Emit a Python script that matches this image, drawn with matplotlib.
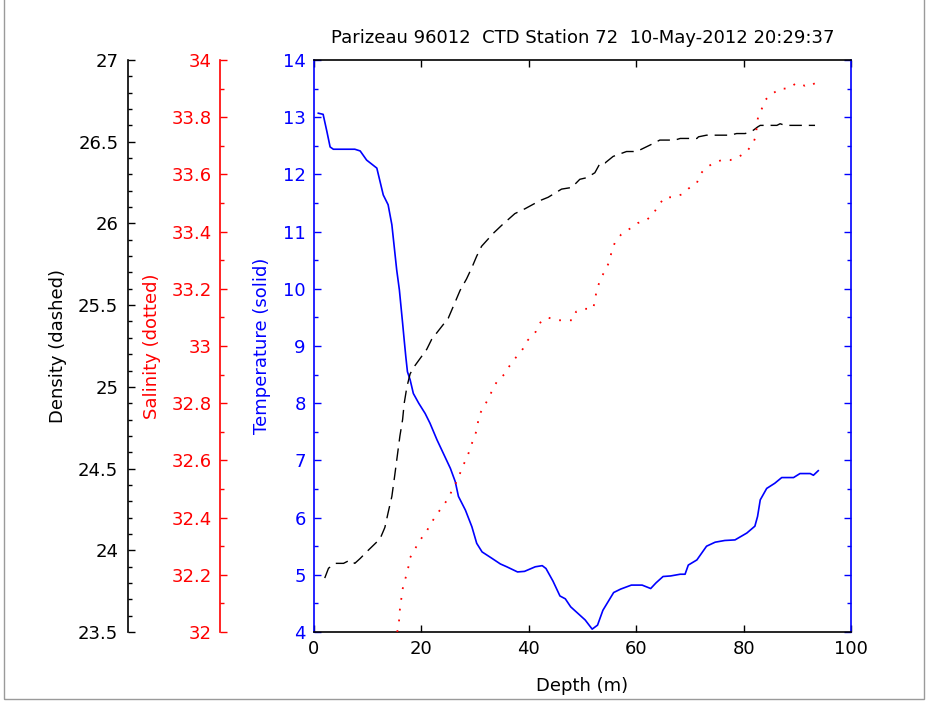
import matplotlib
matplotlib.use('Agg')
import matplotlib.pyplot as plt
from matplotlib.ticker import MultipleLocator, FormatStrFormatter
from matplotlib.patches import Rectangle

# CTD profile values
temp_depth = [0.8, 1.7, 2.4, 3.0, 3.6, 6.4, 7.6, 8.6, 9.8, 11.7, 12.9, 13.8,
              14.5, 15.4, 15.9, 16.2, 16.5, 16.8, 17.1, 17.4, 17.9, 18.5,
              19.5, 20.7, 21.6, 22.9, 24.1, 25.4, 26.3, 26.9, 28.2, 29.4,
              30.3, 31.3, 33.1, 34.7, 35.9, 37.9, 39.2, 41.2, 42.5, 43.2,
              44.5, 45.8, 46.8, 47.8, 50.5, 51.8, 52.8, 53.8, 55.8, 57.1,
              59.1, 61.1, 62.7, 63.7, 65.0, 66.4, 68.2, 69.1, 69.7, 71.3,
              72.2, 73.1, 74.7, 76.5, 78.4, 80.6, 82.1, 82.6, 83.1, 84.3,
              85.8, 87.1, 89.3, 90.5, 92.4, 93.0, 93.9]
temp = [13.07, 13.05, 12.75, 12.48, 12.44, 12.44, 12.44, 12.41, 12.25,
        12.11, 11.64, 11.47, 11.12, 10.33, 9.98, 9.69, 9.40, 9.10, 8.81,
        8.55, 8.41, 8.17, 8.00, 7.82, 7.65, 7.36, 7.12, 6.86, 6.63, 6.37,
        6.13, 5.84, 5.55, 5.40, 5.29, 5.19, 5.14, 5.05, 5.06, 5.14, 5.16,
        5.11, 4.89, 4.63, 4.58, 4.44, 4.21, 4.05, 4.12, 4.38, 4.69, 4.75,
        4.82, 4.82, 4.76, 4.86, 4.97, 4.98, 5.01, 5.01, 5.17, 5.26, 5.38,
        5.50, 5.57, 5.60, 5.61, 5.73, 5.85, 6.02, 6.31, 6.51, 6.60, 6.70,
        6.70, 6.77, 6.77, 6.74, 6.82]

dens_depth = [2.0, 2.7, 3.9, 5.5, 6.7, 7.6, 8.6, 10.1, 12.3, 13.2, 13.8,
              14.5, 15.0, 15.4, 15.8, 16.0, 16.5, 16.8, 17.3, 17.9, 18.8,
              21.0, 21.9, 23.8, 25.0, 26.3, 27.2, 28.4, 29.4, 30.3, 31.2,
              33.4, 35.0, 37.4, 39.3, 42.1, 43.6, 46.1, 48.0, 49.5, 50.8,
              52.3, 53.3, 54.2, 55.7, 58.2, 60.1, 62.6, 64.4, 67.2, 68.2,
              71.3, 71.6, 73.1, 75.9, 77.5, 78.7, 80.3, 81.8, 82.6, 83.1,
              84.6, 86.2, 86.8, 87.7, 89.0, 90.5, 93.3]
dens = [23.83, 23.89, 23.92, 23.92, 23.94, 23.92, 23.95, 24.00, 24.07,
        24.14, 24.23, 24.33, 24.45, 24.55, 24.65, 24.70, 24.80, 24.90,
        25.00, 25.08, 25.13, 25.23, 25.29, 25.37, 25.42, 25.52, 25.59,
        25.66, 25.73, 25.80, 25.86, 25.94, 25.99, 26.06, 26.09, 26.14,
        26.16, 26.21, 26.22, 26.27, 26.28, 26.31, 26.37, 26.37, 26.41,
        26.44, 26.44, 26.48, 26.51, 26.51, 26.52, 26.52, 26.53, 26.54,
        26.54, 26.54, 26.55, 26.55, 26.57, 26.59, 26.60, 26.60, 26.60,
        26.61, 26.60, 26.60, 26.60, 26.60]

sal_depth = [15.5, 15.8, 16.0, 16.5, 16.9, 17.4, 17.9, 18.8, 19.7, 20.9,
             21.8, 22.8, 24.0, 25.1, 25.8, 26.4, 27.1, 27.7, 28.5, 29.6,
             30.2, 30.5, 30.8, 31.7, 32.6, 33.3, 34.2, 35.4, 36.4, 37.6,
             38.9, 39.8, 41.3, 42.0, 43.5, 45.1, 46.6, 48.2, 48.8, 50.4,
             52.0, 52.3, 52.6, 52.9, 53.5, 54.4, 55.1, 55.4, 56.0, 57.2,
             58.8, 60.3, 61.9, 63.1, 64.1, 65.3, 66.9, 68.5, 69.7, 71.3,
             71.9, 72.8, 74.4, 75.9, 77.5, 79.0, 80.6, 81.8, 82.4, 82.4,
             82.7, 83.4, 84.0, 85.2, 86.8, 88.3, 89.9, 91.4, 93.0, 93.3]
sal = [32.00, 32.03, 32.08, 32.15, 32.18, 32.21, 32.26, 32.29, 32.32,
       32.35, 32.38, 32.41, 32.44, 32.47, 32.50, 32.52, 32.55, 32.58,
       32.61, 32.67, 32.70, 32.73, 32.76, 32.79, 32.82, 32.85, 32.88,
       32.90, 32.93, 32.96, 32.99, 33.02, 33.05, 33.08, 33.10, 33.09,
       33.09, 33.09, 33.12, 33.13, 33.13, 33.16, 33.19, 33.21, 33.24,
       33.27, 33.30, 33.33, 33.36, 33.39, 33.41, 33.43, 33.44, 33.46,
       33.49, 33.52, 33.52, 33.53, 33.55, 33.57, 33.60, 33.62, 33.64,
       33.65, 33.65, 33.66, 33.68, 33.71, 33.74, 33.77, 33.80, 33.83,
       33.86, 33.88, 33.90, 33.90, 33.92, 33.91, 33.92, 33.91]

title = 'Parizeau 96012  CTD Station 72  10-May-2012 20:29:37'

plt.rcParams['font.family'] = ['DejaVu Sans']
plt.rcParams['font.size'] = 13

W, H = 929, 701
fig = plt.figure(figsize=(W / 100, H / 100), dpi=100)
# axes box in pixels
x0, x1, y0, y1 = 314, 851, 60, 632
ax = fig.add_axes([x0 / W, 1 - y1 / H, (x1 - x0) / W, (y1 - y0) / H])

# extra y axes for density and salinity, spines moved out to the left
dax = ax.twinx()
sax = ax.twinx()
for par, xpix in ((dax, 128), (sax, 220)):
    par.spines['left'].set_position(('axes', (xpix - x0) / (x1 - x0)))
    par.spines['left'].set_visible(True)
    for s in ('right', 'top', 'bottom'):
        par.spines[s].set_visible(False)
    par.yaxis.set_ticks_position('left')
    par.yaxis.set_label_position('left')

# temperature (main axes)
ax.plot(temp_depth, temp, color='blue', lw=1.2)
ax.set_xlim(0, 100)
ax.set_ylim(4, 14)
ax.xaxis.set_major_locator(MultipleLocator(20))
ax.yaxis.set_major_locator(MultipleLocator(1))
ax.yaxis.set_minor_locator(MultipleLocator(0.5))
ax.tick_params(axis='x', which='major', direction='in', top=True,
               bottom=True, length=5, width=1, pad=6, colors='black')
ax.tick_params(axis='y', which='both', direction='in', left=True,
               right=True, labelright=False, width=1, pad=6, colors='blue')
ax.tick_params(axis='y', which='major', length=5)
ax.tick_params(axis='y', which='minor', length=3)
ax.spines['left'].set_color('blue')
ax.spines['right'].set_color('blue')
for s in ax.spines.values():
    s.set_linewidth(1.2)

# density (dashed)
dax.plot(dens_depth, dens, color='black', lw=1.0, dashes=(9, 5))
dax.set_ylim(23.5, 27)
dax.yaxis.set_major_locator(MultipleLocator(0.5))
dax.yaxis.set_minor_locator(MultipleLocator(0.1))
dax.yaxis.set_major_formatter(FormatStrFormatter('%g'))
dax.spines['left'].set_color('black')
dax.spines['left'].set_linewidth(1.2)
dax.tick_params(axis='y', which='both', direction='in', width=1, pad=7,
                colors='black')
dax.tick_params(axis='y', which='major', length=5)
dax.tick_params(axis='y', which='minor', length=3)

# salinity (dotted)
sax.plot(sal_depth, sal, color='red', lw=1.3, dashes=(1, 5))
sax.set_ylim(32, 34)
sax.yaxis.set_major_locator(MultipleLocator(0.2))
sax.yaxis.set_minor_locator(MultipleLocator(0.1))
sax.yaxis.set_major_formatter(FormatStrFormatter('%g'))
sax.spines['left'].set_color('red')
sax.spines['left'].set_linewidth(1.2)
sax.tick_params(axis='y', which='both', direction='in', width=1, pad=6,
                colors='red')
sax.tick_params(axis='y', which='major', length=5)
sax.tick_params(axis='y', which='minor', length=3)

# labels and title, placed in pixels
ymid = 1 - (y0 + y1) / 2 / H
fig.text(58 / W, ymid, 'Density (dashed)', rotation=90, ha='center',
         va='center', color='black')
fig.text(152 / W, ymid, 'Salinity (dotted)', rotation=90, ha='center',
         va='center', color='red')
fig.text(262 / W, ymid, 'Temperature (solid)', rotation=90, ha='center',
         va='center', color='blue')
fig.text((x0 + x1) / 2 / W, 1 - 686 / H, 'Depth (m)', ha='center',
         va='center')
fig.text((x0 + x1) / 2 / W, 1 - 38 / H, title, ha='center', va='center')

# thin grey frame around the picture
fig.add_artist(Rectangle((4.5 / W, 2.5 / H), 920 / W, 700 / H,
                         transform=fig.transFigure, fill=False,
                         edgecolor='#9a9a9a', lw=1))

fig.savefig('out.png', dpi=100)
